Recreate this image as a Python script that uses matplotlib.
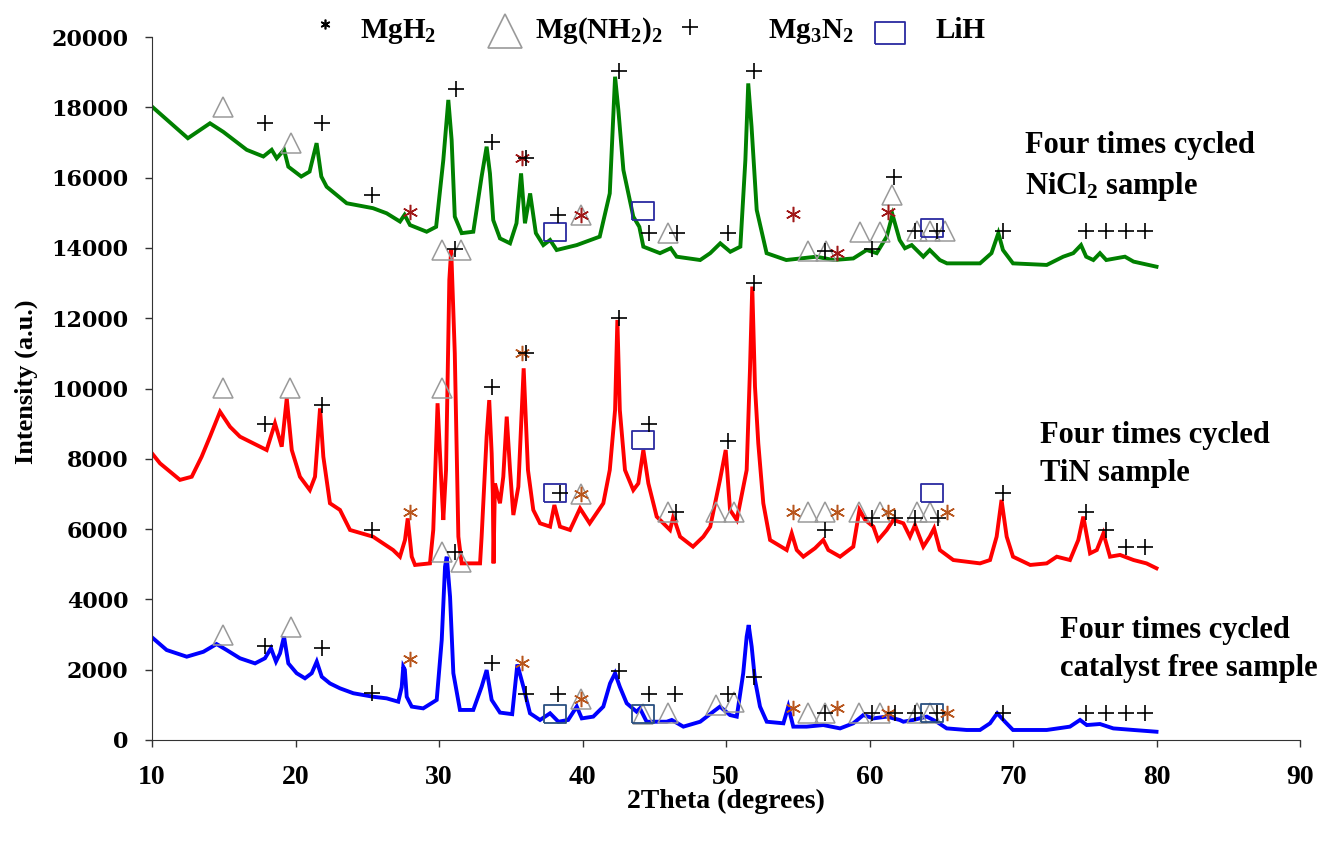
import numpy as np
import matplotlib
matplotlib.use('Agg')
import matplotlib.pyplot as plt
from matplotlib.lines import Line2D

# XRD patterns: (2theta in degrees, intensity in a.u.)
nicl2_pts = [(10, 18020), (12.5, 17120), (14.04, 17545), (14.97, 17300), (16.6, 16790),
             (17.76, 16600), (18.34, 16790), (18.69, 16550), (19.2, 16790), (19.5, 16310),
             (20.4, 16030), (20.98, 16170), (21.47, 16980), (21.8, 16030), (22.17, 15740),
             (23.57, 15270), (25.4, 15130), (26.35, 14985), (27.28, 14750), (27.6, 14940),
             (27.98, 14650), (29.14, 14460), (29.8, 14600), (30.3, 16500), (30.65, 18210),
             (30.88, 17070), (31.1, 14890), (31.58, 14420), (32.39, 14460), (32.97, 16030),
             (33.32, 16880), (33.55, 16120), (33.78, 14790), (34.25, 14270), (34.95, 14130),
             (35.4, 14700), (35.72, 16120), (35.99, 14700), (36.35, 15550), (36.75, 14420),
             (37.27, 14080), (37.74, 14225), (38.2, 13940), (39.6, 14080), (41.2, 14320),
             (41.9, 15550), (42.27, 18870), (42.5, 17920), (42.85, 16215), (43.54, 14890),
             (43.96, 14600), (44.24, 14035), (45.4, 13850), (46.15, 13990), (46.56, 13750),
             (48.2, 13655), (48.9, 13850), (49.6, 14130), (50.3, 13890), (51.0, 14035),
             (51.35, 16500), (51.55, 18680), (51.78, 17450), (52.14, 15080), (52.83, 13850),
             (54.2, 13655), (56.3, 13750), (57.48, 13655), (58.87, 13700), (59.8, 13940),
             (60.5, 13850), (61.2, 14320), (61.6, 14950), (62.1, 14225), (62.47, 13990),
             (62.94, 14080), (63.75, 13750), (64.2, 13940), (64.9, 13655), (65.4, 13560),
             (67.7, 13560), (68.5, 13850), (68.98, 14420), (69.3, 13940), (70.0, 13560),
             (72.35, 13515), (73.5, 13750), (74.2, 13850), (74.74, 14080), (75.1, 13750),
             (75.6, 13655), (76.06, 13850), (76.5, 13655), (77.8, 13750), (78.4, 13610),
             (80.0, 13465)]

tin_pts = [(10, 8155), (10.56, 7870), (11.95, 7400), (12.77, 7490), (13.46, 8060),
           (14.04, 8630), (14.74, 9340), (15.44, 8910), (16.13, 8630), (17.06, 8440),
           (17.99, 8250), (18.57, 9010), (19.04, 8345), (19.39, 9720), (19.74, 8250),
           (20.31, 7490), (21.0, 7110), (21.36, 7490), (21.71, 9435), (21.94, 8060),
           (22.4, 6735), (23.1, 6545), (23.8, 5975), (25.4, 5785), (26.8, 5405),
           (27.28, 5215), (27.63, 5690), (27.82, 6305), (28.1, 5215), (28.33, 4980),
           (29.37, 5025), (29.6, 5975), (29.9, 9580), (30.19, 7110), (30.3, 6260),
           (30.49, 7680), (30.72, 13090), (30.85, 13950), (31.1, 11000), (31.35, 5785),
           (31.58, 5025), (32.86, 5025), (32.97, 5785), (33.32, 8630), (33.5, 9670),
           (33.67, 8155), (33.75, 7000), (33.8, 5025), (33.9, 7300), (34.25, 6735),
           (34.48, 7490), (34.72, 9200), (34.95, 7680), (35.18, 6400), (35.53, 7205),
           (35.9, 10575), (36.2, 7680), (36.57, 6545), (37.04, 6165), (37.74, 6070),
           (38.04, 6685), (38.43, 6070), (39.13, 5975), (39.83, 6590), (40.5, 6165),
           (41.45, 6735), (41.9, 7680), (42.27, 9390), (42.43, 11950), (42.6, 9390),
           (42.96, 7680), (43.54, 7110), (43.89, 7300), (44.24, 8250), (44.59, 7300),
           (45.17, 6355), (46.1, 5975), (46.33, 6355), (46.8, 5785), (47.7, 5500),
           (48.42, 5785), (48.9, 6070), (49.58, 7400), (49.98, 8250), (50.28, 6545),
           (50.75, 6260), (51.44, 7680), (51.67, 10525), (51.83, 12900), (52.02, 10050),
           (52.25, 8440), (52.6, 6735), (53.07, 5690), (54.23, 5405), (54.58, 5880),
           (54.93, 5405), (55.39, 5215), (56.2, 5455), (56.78, 5690), (57.13, 5405),
           (57.95, 5215), (58.87, 5500), (59.3, 6545), (59.7, 6260), (60.27, 6070),
           (60.6, 5690), (61.2, 5975), (61.66, 6260), (62.36, 6165), (62.82, 5785),
           (63.17, 6115), (63.75, 5500), (64.2, 5785), (64.5, 6020), (64.9, 5405),
           (65.84, 5120), (67.7, 5025), (68.4, 5120), (68.86, 5785), (69.2, 6830),
           (69.56, 5785), (70.0, 5215), (71.2, 4980), (72.35, 5025), (73.05, 5215),
           (73.97, 5120), (74.55, 5690), (74.9, 6355), (75.37, 5310), (75.84, 5405),
           (76.3, 5880), (76.76, 5215), (77.46, 5265), (78.4, 5120), (79.3, 5025),
           (80.0, 4885)]

free_pts = [(10, 2920), (11.02, 2560), (12.42, 2370), (13.58, 2510), (14.5, 2730),
            (15.2, 2560), (16.13, 2325), (17.18, 2180), (17.87, 2325), (18.29, 2610),
            (18.64, 2230), (18.92, 2465), (19.2, 2940), (19.5, 2180), (20.08, 1900),
            (20.66, 1755), (21.13, 1900), (21.48, 2230), (21.83, 1800), (22.4, 1610),
            (23.1, 1470), (24.03, 1330), (25.42, 1230), (26.35, 1185), (27.16, 1090),
            (27.4, 1500), (27.51, 2085), (27.62, 2000), (27.75, 1230), (28.1, 950),
            (28.9, 900), (29.84, 1140), (30.19, 2845), (30.42, 4930), (30.54, 5215),
            (30.77, 4075), (31.0, 1900), (31.46, 855), (32.39, 855), (32.97, 1515),
            (33.32, 1990), (33.67, 1140), (34.25, 780), (35.1, 735), (35.46, 2150),
            (35.88, 1515), (36.34, 760), (37.04, 570), (37.74, 760), (38.32, 520),
            (39.0, 570), (39.6, 950), (39.95, 615), (40.75, 665), (41.45, 950),
            (41.92, 1610), (42.27, 1900), (42.6, 1515), (43.08, 1045), (43.77, 805),
            (44.0, 900), (44.47, 520), (45.87, 520), (46.22, 570), (47.03, 380),
            (48.2, 520), (49.11, 805), (49.58, 950), (50.28, 710), (50.75, 665),
            (51.2, 1900), (51.44, 2940), (51.58, 3270), (51.79, 2655), (52.02, 1710),
            (52.37, 950), (52.84, 520), (54.0, 475), (54.34, 950), (54.69, 380),
            (55.62, 380), (56.78, 425), (57.95, 330), (58.87, 475), (59.57, 710),
            (60.27, 615), (61.2, 665), (62.1, 570), (62.36, 520), (63.05, 570),
            (63.99, 665), (64.68, 520), (65.38, 330), (66.77, 285), (67.7, 285),
            (68.4, 475), (68.9, 760), (69.44, 520), (70.0, 285), (72.35, 285),
            (73.97, 380), (74.67, 570), (75.14, 425), (76.06, 455), (76.99, 330),
            (78.4, 285), (80.0, 235)]

# phase markers above the peaks, per pattern
nicl2_mgnh2 = [(14.97, 18020), (19.67, 16990), (39.9, 14940), (45.98, 14430), (55.74, 13920),
               (57.0, 13920), (59.34, 14460), (60.73, 14460), (61.55, 15500), (63.3, 14480),
               (64.2, 14480), (65.26, 14480)]
nicl2_mg3n2 = [(17.87, 17545), (21.87, 17545), (25.35, 15500), (31.18, 18510), (33.67, 17020),
               (36.06, 16550), (38.3, 14940), (42.57, 19040), (44.6, 14430), (46.56, 14430),
               (50.16, 14430), (51.95, 19040), (56.9, 13920), (60.2, 13960), (61.73, 16030),
               (63.17, 14480), (64.68, 14480), (69.28, 14480), (75.07, 14480), (76.46, 14480),
               (77.85, 14480), (79.2, 14480)]
nicl2_mgh2 = [(27.98, 15030), (35.76, 16550), (39.9, 14940), (54.65, 14965), (57.76, 13865),
              (61.3, 15030)]
nicl2_lih = [(38.08, 14460), (44.2, 15050), (64.33, 14560)]

tin_mgnh2 = [(14.97, 10005), (19.62, 10005), (30.19, 10005), (30.19, 13940), (31.5, 13940),
             (39.9, 7000), (45.98, 6495), (49.3, 6495), (50.58, 6495), (55.74, 6495),
             (56.9, 6495), (59.3, 6495), (60.73, 6495), (63.3, 6495), (64.2, 6495)]
tin_mg3n2 = [(17.87, 8990), (21.83, 9530), (25.35, 5975), (31.1, 13960), (33.67, 10030),
             (36.06, 11020), (38.43, 7035), (42.54, 12015), (44.6, 8990), (46.5, 6495),
             (50.16, 8515), (51.95, 13010), (56.9, 5975), (60.15, 6305), (61.78, 6305),
             (63.17, 6305), (64.8, 6305), (69.28, 7020), (75.07, 6495), (76.46, 5975),
             (77.85, 5500), (79.2, 5500)]
tin_mgh2 = [(27.98, 6495), (35.76, 11020), (39.9, 7000), (54.65, 6495), (57.76, 6495),
            (61.3, 6495), (65.38, 6495)]
tin_lih = [(38.08, 7035), (44.2, 8535), (64.33, 7035)]

free_mgnh2 = [(14.97, 2990), (19.67, 3205), (30.19, 5360), (31.5, 5075), (39.9, 1160),
              (44.2, 740), (45.98, 780), (49.3, 995), (50.58, 1090), (55.74, 780),
              (56.9, 780), (59.3, 780), (60.73, 780), (63.3, 780), (64.2, 780)]
free_mg3n2 = [(17.87, 2675), (21.87, 2610), (25.35, 1350), (31.1, 5360), (33.67, 2200),
              (36.06, 1310), (38.3, 1310), (42.57, 1970), (44.6, 1310), (46.45, 1310),
              (50.16, 1310), (51.95, 1785), (56.9, 780), (60.15, 780), (61.78, 780),
              (63.17, 780), (64.68, 780), (69.28, 780), (75.07, 780), (76.46, 780),
              (77.85, 780), (79.2, 780)]
free_mgh2 = [(27.98, 2295), (35.76, 2200), (39.9, 1160), (54.65, 900), (57.76, 900),
             (61.3, 780), (65.38, 780)]
free_lih = [(38.08, 740), (44.2, 740), (64.33, 760)]

sample_labels = ['Four times cycled\nNiCl$_2$ sample',
                 'Four times cycled\nTiN sample',
                 'Four times cycled\ncatalyst free sample']
label_pos = [(70.84, 16300), (71.88, 8120), (73.28, 2580)]

# fonts: bold serif like the original Times chart
plt.rcParams['font.family'] = ['Liberation Serif', 'DejaVu Serif']
plt.rcParams['font.weight'] = 'bold'
plt.rcParams['axes.labelweight'] = 'bold'
plt.rcParams['mathtext.fontset'] = 'custom'
plt.rcParams['mathtext.rm'] = 'Liberation Serif:bold'
plt.rcParams['mathtext.it'] = 'Liberation Serif:bold'
plt.rcParams['mathtext.bf'] = 'Liberation Serif:bold'

W, H = 1327, 843
fig = plt.figure(figsize=(W / 100, H / 100), dpi=100)
ax = fig.add_axes([152 / W, 103 / H, 1148 / W, 703 / H])

# the three patterns
for pts, col in [(nicl2_pts, '#008000'), (tin_pts, '#ff0000'), (free_pts, '#0000ff')]:
    xy = np.array(pts)
    ax.plot(xy[:, 0], xy[:, 1], color=col, lw=2.8, solid_joinstyle='miter', zorder=2)

# a wide rectangle marker for LiH
rect = [(-1.3, -1), (1.3, -1), (1.3, 1), (-1.3, 1), (-1.3, -1)]

tri_style = dict(ls='none', marker='^', ms=14, mfc='none', mec='#9a9a9a', mew=1.1, zorder=4)
plus_style = dict(ls='none', marker='+', ms=11, mec='black', mew=1.2, zorder=5)
lih_style = dict(ls='none', marker=rect, ms=16, mfc='none', mew=1.3, zorder=4)
ast_style = dict(ls='none', marker=(6, 2, 0), ms=11, mew=1.1, zorder=5)

panels = [(nicl2_mgnh2, nicl2_mg3n2, nicl2_mgh2, nicl2_lih, '#a01818', '#2a2aa0'),
          (tin_mgnh2, tin_mg3n2, tin_mgh2, tin_lih, '#b8561e', '#2a2aa0'),
          (free_mgnh2, free_mg3n2, free_mgh2, free_lih, '#b8561e', '#2a4f80')]
for tri, plus, ast, sq, ast_col, sq_col in panels:
    tri = np.array(tri)
    plus = np.array(plus)
    ast = np.array(ast)
    sq = np.array(sq)
    ax.plot(tri[:, 0], tri[:, 1], **tri_style)
    ax.plot(sq[:, 0], sq[:, 1], mec=sq_col, **lih_style)
    ax.plot(ast[:, 0], ast[:, 1], mec=ast_col, **ast_style)
    ax.plot(plus[:, 0], plus[:, 1], **plus_style)

# sample names
for txt, (lx, ly) in zip(sample_labels, label_pos):
    ax.text(lx, ly, txt, fontsize=22, ha='left', va='center', linespacing=1.4,
            clip_on=False)

# axes
ax.set_xlim(10, 90)
ax.set_ylim(0, 20000)
ax.set_xticks(np.arange(10, 91, 10))
ax.set_yticks(np.arange(0, 20001, 2000))
ax.spines['top'].set_visible(False)
ax.spines['right'].set_visible(False)
ax.spines['left'].set_color('#333333')
ax.spines['bottom'].set_color('#333333')
ax.tick_params(direction='out', length=5, width=1, color='#333333')
ax.tick_params(axis='x', labelsize=20, pad=13)
ax.tick_params(axis='y', pad=12)
for lab in ax.get_yticklabels():
    lab.set_fontfamily('DejaVu Serif')
    lab.set_fontsize(16)
    lab.set_fontweight('bold')

ax.set_xlabel('2Theta (degrees)', fontsize=20, fontweight='bold')
ax.xaxis.set_label_coords(0.5, -0.07)
ax.set_ylabel('Intensity (a.u.)', fontsize=19, fontweight='bold')
ax.yaxis.set_label_coords(-0.099, 0.51)

# legend row across the top, placed in pixel positions
def fx(px):
    return px / W

def fy(py):
    return 1 - py / H

fig.add_artist(Line2D([fx(325)], [fy(24)], transform=fig.transFigure, ls='none',
                      marker=(6, 2, 0), ms=7, mec='black', mew=1.2))
fig.add_artist(Line2D([fx(505)], [fy(31)], transform=fig.transFigure, ls='none',
                      marker='^', ms=24, mfc='none', mec='#9a9a9a', mew=1.2))
fig.add_artist(Line2D([fx(690)], [fy(27)], transform=fig.transFigure, ls='none',
                      marker='+', ms=11, mec='black', mew=1.2))
fig.add_artist(Line2D([fx(890)], [fy(33)], transform=fig.transFigure, ls='none',
                      marker=rect, ms=21, mfc='none', mec='#2a2aa0', mew=1.3))
for txt, px in [('MgH$_2$', 360), ('Mg(NH$_2$)$_2$', 535), ('Mg$_3$N$_2$', 768), ('LiH', 935)]:
    fig.text(fx(px), fy(31), txt, fontsize=21, ha='left', va='center')

fig.savefig('out.png', dpi=100)
